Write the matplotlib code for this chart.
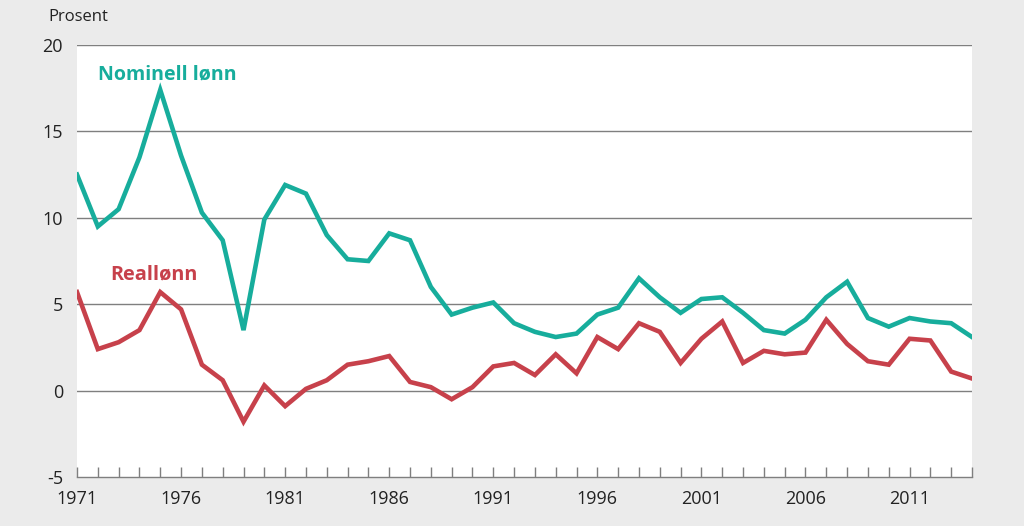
import numpy as np
import matplotlib.pyplot as plt

years = list(range(1971, 2015))
nominell = [12.5, 9.5, 10.5, 13.5, 17.4, 13.6, 10.3, 8.7, 3.5, 9.9,
            11.9, 11.4, 9.0, 7.6, 7.5, 9.1, 8.7, 6.0, 4.4, 4.8,
            5.1, 3.9, 3.4, 3.1, 3.3, 4.4, 4.8, 6.5, 5.4, 4.5,
            5.3, 5.4, 4.5, 3.5, 3.3, 4.1, 5.4, 6.3, 4.2, 3.7,
            4.2, 4.0, 3.9, 3.1]
reallonn = [5.7, 2.4, 2.8, 3.5, 5.7, 4.7, 1.5, 0.6, -1.8, 0.3,
            -0.9, 0.1, 0.6, 1.5, 1.7, 2.0, 0.5, 0.2, -0.5, 0.2,
            1.4, 1.6, 0.9, 2.1, 1.0, 3.1, 2.4, 3.9, 3.4, 1.6,
            3.0, 4.0, 1.6, 2.3, 2.1, 2.2, 4.1, 2.7, 1.7, 1.5,
            3.0, 2.9, 1.1, 0.7]
yticks = [-5, 0, 5, 10, 15, 20]
xlabels = list(range(1971, 2015, 5))

teal = "#17ad9c"
red = "#c7414b"
bg = "#ebebeb"

plt.rcParams["font.family"] = ["Open Sans", "DejaVu Sans"]
plt.rcParams["axes.unicode_minus"] = False

fig = plt.figure(figsize=(10.24, 5.26), dpi=100, facecolor=bg)
ax = fig.add_axes([77 / 1024, 1 - 477 / 526, 895 / 1024, 432 / 526])
ax.set_facecolor("white")

for y in yticks[1:]:
    ax.axhline(y, color="#7f7f7f", lw=1.0, zorder=1)

ax.plot(years, nominell, color=teal, lw=3.3, solid_joinstyle="miter", zorder=3)
ax.plot(years, reallonn, color=red, lw=3.3, solid_joinstyle="miter", zorder=3)

ax.set_xlim(1971, 2014)
ax.set_ylim(-5, 20)
ax.set_yticks(yticks)
ax.set_xticks(years, minor=True)
ax.set_xticks(xlabels)
ax.tick_params(axis="y", length=0, labelsize=13, pad=10, labelcolor="#222222")
ax.tick_params(axis="x", which="both", direction="in", length=7, width=1,
               color="#7f7f7f", labelsize=13, pad=9, labelcolor="#222222")

for side in ["top", "right", "left"]:
    ax.spines[side].set_visible(False)
ax.spines["bottom"].set_color("#7f7f7f")
ax.spines["bottom"].set_linewidth(1.0)

ax.text(1972, 18.3, "Nominell lønn", color=teal, fontsize=14.1, fontweight="bold",
        va="center", ha="left")
ax.text(1972.6, 6.7, "Reallønn", color=red, fontsize=14.3, fontweight="bold",
        va="center", ha="left")

fig.text(48 / 1024, 1 - 17 / 526, "Prosent", fontsize=12, color="#222222",
         va="center", ha="left")

fig.savefig("out.png", dpi=100, facecolor=bg)
